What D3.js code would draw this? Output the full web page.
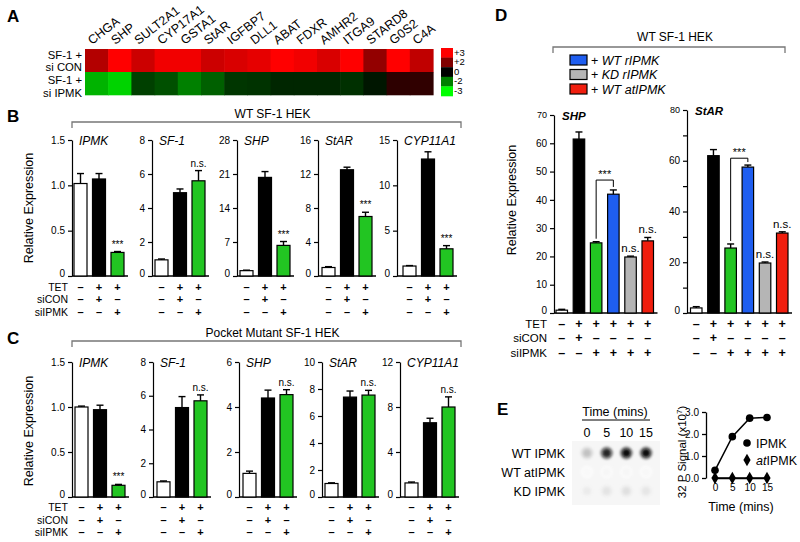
<!DOCTYPE html>
<html>
<head>
<meta charset="utf-8">
<script src="https://cdn.jsdelivr.net/npm/d3@7"></script>
<style>
body { margin: 0; background: #fff; }
</style>
</head>
<body>
<div id="fig"></div>
<script>
// ---- data ----
var genes = ["CHGA", "SHP", "SULT2A1", "CYP17A1", "GSTA1", "StAR", "IGFBP7", "DLL1", "ABAT", "FDXR", "AMHR2", "ITGA9", "STARD8", "G0S2", "C4A"];
var heatSiCON = [2.4, 3.0, 2.6, 2.9, 2.9, 2.6, 2.7, 2.8, 3.0, 2.9, 2.7, 3.0, 2.15, 3.0, 2.5];
var heatSiIPMK = [-2.4, -2.65, -1.0, -1.25, -2.0, -1.5, -0.85, -0.8, -0.6, -0.6, -0.6, -0.75, -0.35, 0.7, 0.75];
var heatRowLabels = [["SF-1 +", "si CON"], ["SF-1 +", "si IPMK"]];
var heatLegend = [3, 2, 0, -2, -3];
var heatLegendLabels = ["+3", "+2", "0", "-2", "-3"];

var condLabels = ["TET", "siCON", "siIPMK"];
var signs3 = [["–", "+", "+"], ["–", "+", "–"], ["–", "–", "+"]];
var signs6 = [["–", "+", "+", "+", "+", "+"], ["–", "+", "–", "–", "–", "–"], ["–", "–", "+", "+", "+", "+"]];

// panel B: WT SF-1 HEK
var bGenes = ["IPMK", "SF-1", "SHP", "StAR", "CYP11A1"];
var bMax = [1.5, 8, 28, 16, 15];
var bTicks = [[0, 0.5, 1, 1.5], [0, 2, 4, 6, 8], [0, 7, 14, 21, 28], [0, 4, 8, 12, 16], [0, 5, 10, 15]];
var bMeans = [[1.02, 1.07, 0.26], [0.95, 4.9, 5.6], [1.1, 20.3, 6.3], [1.0, 12.5, 7.0], [1.1, 12.9, 3.0]];
var bErrs = [[0.11, 0.06, 0.01], [0.05, 0.22, 0.6], [0.1, 1.2, 0.8], [0.1, 0.3, 0.5], [0.05, 0.8, 0.35]];
var bSig = [["", "", "***"], ["", "", "n.s."], ["", "", "***"], ["", "", "***"], ["", "", "***"]];

// panel C: Pocket Mutant SF-1 HEK
var cGenes = ["IPMK", "SF-1", "SHP", "StAR", "CYP11A1"];
var cMax = [1.5, 8, 6, 10, 12];
var cTicks = [[0, 0.5, 1, 1.5], [0, 2, 4, 6, 8], [0, 2, 4, 6], [0, 2, 4, 6, 8, 10], [0, 4, 8, 12]];
var cMeans = [[1.0, 0.97, 0.13], [0.9, 5.3, 5.7], [1.05, 4.4, 4.55], [1.0, 7.4, 7.55], [1.25, 6.6, 8.0]];
var cErrs = [[0.01, 0.05, 0.01], [0.05, 0.65, 0.35], [0.1, 0.35, 0.22], [0.05, 0.45, 0.35], [0.08, 0.4, 0.9]];
var cSig = [["", "", "***"], ["", "", "n.s."], ["", "", "n.s."], ["", "", "n.s."], ["", "", "n.s."]];

// panel D: rescue
var dLegend = ["WT rIPMK", "KD rIPMK", "WT atIPMK"];
var dGenes = ["SHP", "StAR"];
var dMax = [70, 80];
var dMeans = [[1.0, 61.5, 24.8, 42.0, 19.8, 25.5], [2.0, 62.0, 25.6, 57.5, 19.7, 31.5]];
var dErrs = [[0.3, 2.5, 0.4, 1.5, 0.3, 1.2], [0.5, 2.4, 1.6, 0.8, 0.4, 0.5]];
var dSig = [["", "", "", "", "n.s.", "n.s."], ["", "", "", "", "n.s.", "n.s."]];
var dBracket = [47, 61];

// panel E
var blotRows = ["WT IPMK", "WT atIPMK", "KD IPMK"];
var blotTimes = [0, 5, 10, 15];
var blotIntensity = [[0.35, 0.88, 0.95, 0.95], [0.05, 0.07, 0.07, 0.06], [0.15, 0.19, 0.21, 0.18]];
var timePts = [0, 5, 10, 15];
var ipmkSignal = [0.35, 1.88, 2.72, 2.75];
var atIpmkSignal = [0, 0, 0, 0];

// ---- drawing ----
var FONT = "'Liberation Sans', Arial, sans-serif";
var colors3 = ["#ffffff", "#000000", "#22c522"];
var colors6 = ["#ffffff", "#000000", "#22c522", "#1f5ef0", "#b5b5b5", "#f01e0e"];

var svg = d3.select("#fig").append("svg")
    .attr("width", 800)
    .attr("height", 542)
    .style("font-family", FONT);

// panel letters
[["A", 7, 22], ["B", 7, 122], ["C", 7, 344], ["D", 495, 21], ["E", 497, 415]].forEach(function (p) {
    svg.append("text").attr("x", p[1]).attr("y", p[2])
        .style("font-size", "17px").style("font-weight", "bold").text(p[0]);
});

// ---- A: heatmap ----
var heatColor = d3.scaleLinear()
    .domain([-3, -2, 0, 2, 3])
    .range(["#00ff00", "#008000", "#000000", "#800000", "#ff0000"]);
var xHeat = d3.scaleBand().domain(genes).range([85, 433]);
var yHeat = d3.scaleBand().domain([0, 1]).range([49, 95]);

[heatSiCON, heatSiIPMK].forEach(function (row, r) {
    svg.selectAll(".heat" + r)
        .data(row)
        .enter().append("rect")
        .attr("x", function (d, i) { return xHeat(genes[i]); })
        .attr("y", yHeat(r))
        .attr("width", xHeat.bandwidth() + 0.6)
        .attr("height", yHeat.bandwidth() + 0.3)
        .attr("fill", function (d) { return heatColor(d); });
});

svg.selectAll(".gene")
    .data(genes)
    .enter().append("text")
    .attr("transform", function (d) { return "translate(" + (xHeat(d) + 7) + ",45) rotate(-38)"; })
    .style("font-size", "12.5px")
    .text(function (d) { return d; });

var heatLabelY = [[58.5, 71], [84, 96.5]];
heatRowLabels.forEach(function (lines, r) {
    lines.forEach(function (t, k) {
        svg.append("text")
            .attr("x", 82)
            .attr("y", heatLabelY[r][k])
            .attr("text-anchor", "end")
            .style("font-size", "11.3px")
            .text(t);
    });
});

var yLeg = d3.scaleBand().domain(heatLegend).range([48, 96]);
svg.selectAll(".hleg")
    .data(heatLegend)
    .enter().append("rect")
    .attr("x", 441).attr("y", function (d) { return yLeg(d); })
    .attr("width", 12).attr("height", yLeg.bandwidth() + 0.3)
    .attr("fill", function (d) { return heatColor(d); });
svg.selectAll(".hlegt")
    .data(heatLegend)
    .enter().append("text")
    .attr("x", 454).attr("y", function (d) { return yLeg(d) + 7.5; })
    .style("font-size", "9.5px")
    .text(function (d, i) { return heatLegendLabels[i]; });

// ---- helpers ----
function bracket(x1, x2, y, title, titleY) {
    svg.append("path")
        .attr("d", "M" + x1 + "," + (y + 6) + "V" + y + "H" + x2 + "V" + (y + 6))
        .attr("fill", "none").attr("stroke", "#777").attr("stroke-width", 1.3);
    svg.append("text").attr("x", (x1 + x2) / 2 + 6).attr("y", titleY)
        .attr("text-anchor", "middle").style("font-size", "12px").text(title);
}

function yLabel(x, y, size) {
    svg.append("text")
        .attr("transform", "translate(" + x + "," + y + ") rotate(-90)")
        .attr("text-anchor", "middle")
        .style("font-size", size + "px")
        .text("Relative Expression");
}

function condRows(xRight, ys, size) {
    condLabels.forEach(function (t, r) {
        svg.append("text").attr("x", xRight).attr("y", ys[r])
            .attr("text-anchor", "end").style("font-size", size + "px").text(t);
    });
}

function miniChart(o) {
    var g = svg.append("g");
    var y = d3.scaleLinear().domain([0, o.max]).range([o.bottom, o.top]);
    var xs = o.means.map(function (d, i) { return o.start + i * o.step; });

    var axis = g.append("g")
        .attr("transform", "translate(" + o.axis + ",0)")
        .attr("font-family", FONT)
        .attr("font-size", o.fs)
        .call(d3.axisLeft(y).tickValues(o.ticks).tickSize(4).tickSizeOuter(0).tickPadding(3).tickFormat(o.fmt));
    axis.selectAll("path, line").attr("stroke-width", 1.2);
    axis.selectAll("text").attr("fill", "#000");
    // the zero label sits a little above the baseline in the figure
    axis.selectAll(".tick text").filter(function (d) { return d === 0; }).attr("y", -3);
    if (o.smallTop) {
        axis.selectAll(".tick text").filter(function (d) { return d === o.max; }).attr("font-size", 9);
    }

    // baseline
    g.append("line")
        .attr("x1", o.axis).attr("x2", xs[xs.length - 1] + o.w + 4)
        .attr("y1", o.bottom).attr("y2", o.bottom)
        .attr("stroke", "#000").attr("stroke-width", 1.5);

    // bars
    g.selectAll(".bar")
        .data(o.means)
        .enter().append("rect")
        .attr("x", function (d, i) { return xs[i]; })
        .attr("y", function (d) { return y(d); })
        .attr("width", o.w)
        .attr("height", function (d) { return o.bottom - y(d); })
        .attr("fill", function (d, i) { return o.colors[i]; })
        .attr("stroke", "#000").attr("stroke-width", 1.2);

    // error bars
    o.means.forEach(function (m, i) {
        var cx = xs[i] + o.w / 2;
        var yt = y(m + o.errs[i]);
        g.append("line").attr("x1", cx).attr("x2", cx).attr("y1", y(m)).attr("y2", yt)
            .attr("stroke", "#000").attr("stroke-width", 1.4);
        g.append("line").attr("x1", cx - 3.5).attr("x2", cx + 3.5).attr("y1", yt).attr("y2", yt)
            .attr("stroke", "#000").attr("stroke-width", 1.4);
        if (o.sig[i]) {
            g.append("text").attr("x", cx).attr("y", yt - 4)
                .attr("text-anchor", "middle").style("font-size", o.sigFs + "px").text(o.sig[i]);
        }
    });

    // significance bracket between green and blue
    if (o.bracket) {
        var c1 = xs[2] + o.w / 2, c2 = xs[3] + o.w / 2;
        var yb = y(o.bracket);
        g.append("path")
            .attr("d", "M" + c1 + "," + (y(o.means[2] + o.errs[2]) - 3) + "V" + yb + "H" + c2 + "V" + (y(o.means[3] + o.errs[3]) - 3))
            .attr("fill", "none").attr("stroke", "#000").attr("stroke-width", 1);
        g.append("text").attr("x", (c1 + c2) / 2).attr("y", yb - 2)
            .attr("text-anchor", "middle").style("font-size", "11px").text("***");
    }

    // title
    g.append("text").attr("x", o.axis + o.titleDx).attr("y", o.top + 5)
        .style("font-size", o.titleFs + "px").style("font-style", "italic")
        .style("font-weight", o.titleBold ? "bold" : "normal")
        .text(o.title);

    // +/- rows
    o.signs.forEach(function (row, r) {
        row.forEach(function (s, i) {
            g.append("text").attr("x", xs[i] + o.w / 2).attr("y", o.signY[r])
                .attr("text-anchor", "middle").style("font-size", o.signFs + "px").style("font-weight", "bold")
                .text(s);
        });
    });
}

function oneDec(d) { return d === 0 ? "0" : d3.format(".1f")(d); }

// ---- B ----
var bRowsY = [290.5, 303, 315.5];
bracket(72, 461, 122, "WT SF-1 HEK", 118);
yLabel(33, 208, 12.5);
condRows(68, bRowsY, 10.5);
var bAxis = [72, 152, 237, 318, 397];
var bStart = [74, 155, 240, 322, 403];
bGenes.forEach(function (gname, k) {
    miniChart({
        axis: bAxis[k], start: bStart[k], step: 18.5, w: 13, top: 140, bottom: 276,
        max: bMax[k], ticks: bTicks[k], fmt: k === 0 ? oneDec : d3.format("d"), fs: 12,
        means: bMeans[k], errs: bErrs[k], sig: bSig[k], sigFs: 10, colors: colors3,
        title: gname, titleDx: 7, titleFs: 12, signs: signs3, signY: bRowsY, signFs: 11
    });
});

// ---- C ----
var cRowsY = [511, 523.5, 536];
bracket(72, 461, 341, "Pocket Mutant SF-1 HEK", 337);
yLabel(33, 431, 12.5);
condRows(68, cRowsY, 10.5);
var cAxis = [72, 153, 239, 322, 400];
var cStart = [75, 157, 243, 325, 405];
cGenes.forEach(function (gname, k) {
    miniChart({
        axis: cAxis[k], start: cStart[k], step: 18.5, w: 13, top: 362, bottom: 497,
        max: cMax[k], ticks: cTicks[k], fmt: k === 0 ? oneDec : d3.format("d"), fs: 12,
        means: cMeans[k], errs: cErrs[k], sig: cSig[k], sigFs: 10, colors: colors3,
        title: gname, titleDx: 7, titleFs: 12, signs: signs3, signY: cRowsY, signFs: 11
    });
});

// ---- D ----
var dRowsY = [327.5, 342, 356.5];
bracket(553, 785, 47, "WT SF-1 HEK", 41);
dLegend.forEach(function (t, i) {
    var yy = 55 + i * 14.5;
    svg.append("rect").attr("x", 570).attr("y", yy).attr("width", 17).attr("height", 10)
        .attr("fill", colors6[3 + i]).attr("stroke", "#000").attr("stroke-width", 1.2);
    var tx = svg.append("text").attr("x", 591).attr("y", yy + 9.5).style("font-size", "12.5px");
    tx.append("tspan").text("+ ");
    tx.append("tspan").style("font-style", "italic").text(t);
});
yLabel(516, 200, 12.5);
condRows(547, dRowsY, 11.5);
var dAxis = [554, 687];
var dStart = [556, 690.5];
var dTop = [115, 110];
var dTicks = [[0, 10, 20, 30, 40, 50, 60, 70], [0, 10, 20, 30, 40, 50, 60, 70, 80]];
var dFmt = [function (d) { return d; }, function (d) { return d % 20 === 0 ? d : ""; }];
dGenes.forEach(function (gname, k) {
    miniChart({
        axis: dAxis[k], start: dStart[k], step: 17.2, w: 11.5, top: dTop[k], bottom: 313,
        max: dMax[k], ticks: dTicks[k], fmt: dFmt[k], fs: 12, smallTop: true,
        means: dMeans[k], errs: dErrs[k], sig: dSig[k], sigFs: 11.5, colors: colors6,
        bracket: dBracket[k],
        title: gname, titleDx: 8, titleFs: 11.5, titleBold: true, signs: signs6, signY: dRowsY, signFs: 12.5
    });
});

// ---- E: dot blot ----
var defs = svg.append("defs");
defs.append("filter").attr("id", "soft")
    .attr("x", "-50%").attr("y", "-50%").attr("width", "200%").attr("height", "200%")
    .append("feGaussianBlur").attr("stdDeviation", 1.3);

svg.append("rect").attr("x", 572).attr("y", 441).attr("width", 88).attr("height", 64).attr("fill", "#f6f6f6");
var xBlot = d3.scalePoint().domain(blotTimes).range([587, 646]);
var yBlot = d3.scalePoint().domain(blotRows).range([453, 491]);

svg.append("text").attr("x", 615).attr("y", 416).attr("text-anchor", "middle")
    .style("font-size", "12.5px").text("Time (mins)");
svg.append("line").attr("x1", 582).attr("x2", 650).attr("y1", 420).attr("y2", 420)
    .attr("stroke", "#000").attr("stroke-width", 1.2);
svg.selectAll(".btime").data(blotTimes).enter().append("text")
    .attr("x", function (d) { return xBlot(d); }).attr("y", 437)
    .attr("text-anchor", "middle").style("font-size", "12.5px")
    .text(function (d) { return d; });
svg.selectAll(".brow").data(blotRows).enter().append("text")
    .attr("x", 565).attr("y", function (d) { return yBlot(d) + 5; })
    .attr("text-anchor", "end").style("font-size", "12.5px")
    .text(function (d) { return d; });

blotRows.forEach(function (row, r) {
    blotIntensity[r].forEach(function (v, i) {
        svg.append("circle").attr("cx", xBlot(blotTimes[i])).attr("cy", yBlot(row))
            .attr("r", 6.5).attr("fill", d3.interpolateGreys(v * 0.6)).attr("filter", "url(#soft)");
        svg.append("circle").attr("cx", xBlot(blotTimes[i])).attr("cy", yBlot(row))
            .attr("r", 3.8).attr("fill", d3.interpolateGreys(v)).attr("filter", "url(#soft)");
    });
});

// ---- E: time course ----
var xE = d3.scaleLinear().domain([0, 15]).range([715, 767]);
var yE = d3.scaleLinear().domain([0, 3]).range([478, 412]);

var eY = svg.append("g").attr("transform", "translate(706,0)")
    .attr("font-family", FONT).attr("font-size", 12.5)
    .call(d3.axisLeft(yE).tickValues([0, 1, 2, 3]).tickSize(4).tickSizeOuter(0).tickPadding(3));
eY.selectAll("path, line").attr("stroke-width", 1.3);
eY.selectAll("text").attr("fill", "#000");

var eX = svg.append("g").attr("transform", "translate(0,478)")
    .attr("font-family", FONT).attr("font-size", 12.5)
    .call(d3.axisBottom(xE).tickValues(timePts).tickSize(3).tickSizeOuter(0).tickPadding(3));
eX.selectAll("path, line").attr("stroke-width", 1.3);
eX.selectAll("text").attr("fill", "#000");

svg.append("text").attr("x", 741).attr("y", 511).attr("text-anchor", "middle")
    .style("font-size", "12.5px").text("Time (mins)");

var lineE = d3.line()
    .x(function (d, i) { return xE(timePts[i]); })
    .y(function (d) { return yE(d); });
[ipmkSignal, atIpmkSignal].forEach(function (s) {
    svg.append("path").attr("d", lineE(s)).attr("fill", "none")
        .attr("stroke", "#000").attr("stroke-width", 1.5);
});
svg.selectAll(".ipmkPt").data(ipmkSignal).enter().append("circle")
    .attr("cx", function (d, i) { return xE(timePts[i]); })
    .attr("cy", function (d) { return yE(d); })
    .attr("r", 3.8).attr("fill", "#000");
var diamond = d3.symbol().type(d3.symbolDiamond).size(45);
svg.selectAll(".atPt").data(atIpmkSignal).enter().append("path")
    .attr("d", diamond)
    .attr("transform", function (d, i) { return "translate(" + xE(timePts[i]) + "," + yE(d) + ")"; })
    .attr("fill", "#000");

// legend
svg.append("circle").attr("cx", 747).attr("cy", 443).attr("r", 3.8).attr("fill", "#000");
svg.append("text").attr("x", 756).attr("y", 448).style("font-size", "12.5px").text("IPMK");
svg.append("path").attr("d", diamond).attr("transform", "translate(747,460)").attr("fill", "#000");
var atLab = svg.append("text").attr("x", 756).attr("y", 465).style("font-size", "12.5px");
atLab.append("tspan").style("font-style", "italic").text("at");
atLab.append("tspan").text("IPMK");

// y label
var yl = svg.append("text")
    .attr("transform", "translate(686,452) rotate(-90)")
    .attr("text-anchor", "middle")
    .style("font-size", "11.5px");
yl.append("tspan").text("32 P Signal  (x10");
yl.append("tspan").attr("dy", -4).style("font-size", "8px").text("7");
yl.append("tspan").attr("dy", 4).text(")");
</script>
</body>
</html>
